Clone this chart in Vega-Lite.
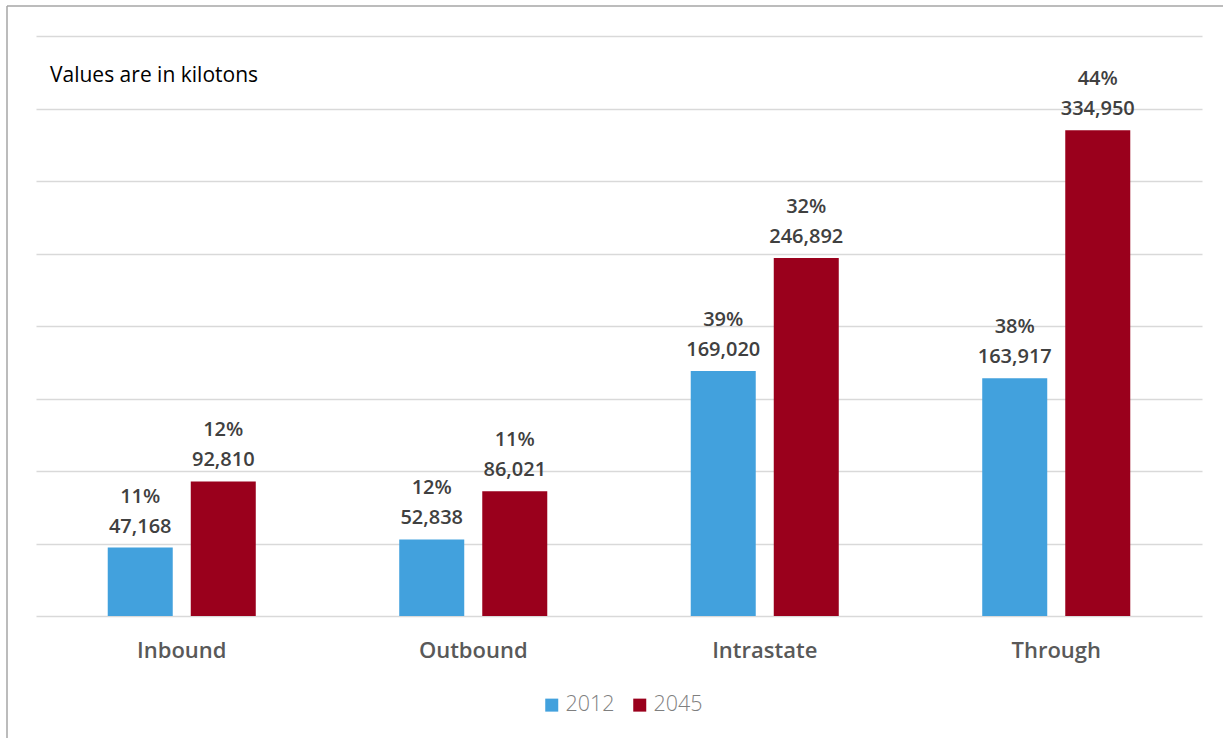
{
  "$schema": "https://vega.github.io/schema/vega-lite/v6.json",
  "width": 1216,
  "height": 732,
  "autosize": {"type": "none"},
  "padding": {"left": 7, "top": 6, "right": 0, "bottom": 0},
  "background": "white",
  "config": {
    "view": {"stroke": "#a6a6a6", "strokeWidth": 1.5, "strokeDash": [1216, 1948, 732, 0]},
    "font": "Open Sans"
  },
  "title": {
    "text": "Values are in kilotons",
    "anchor": "start",
    "frame": "group",
    "offset": -80,
    "dx": 43,
    "fontSize": 21,
    "fontWeight": 400,
    "color": "#000000",
    "font": "Open Sans"
  },
  "data": {
    "values": [
      {"category": "Inbound", "year": "2012", "value": 47168, "pct": 0.11},
      {"category": "Inbound", "year": "2045", "value": 92810, "pct": 0.12},
      {"category": "Outbound", "year": "2012", "value": 52838, "pct": 0.12},
      {"category": "Outbound", "year": "2045", "value": 86021, "pct": 0.11},
      {"category": "Intrastate", "year": "2012", "value": 169020, "pct": 0.39},
      {"category": "Intrastate", "year": "2045", "value": 246892, "pct": 0.32},
      {"category": "Through", "year": "2012", "value": 163917, "pct": 0.38},
      {"category": "Through", "year": "2045", "value": 334950, "pct": 0.44}
    ]
  },
  "encoding": {
    "x": {
      "field": "category",
      "type": "nominal",
      "sort": ["Inbound", "Outbound", "Intrastate", "Through"],
      "scale": {"range": [29, 1195], "paddingInner": 0, "paddingOuter": 0},
      "axis": {
        "title": null,
        "domain": false,
        "ticks": false,
        "grid": false,
        "labelAngle": 0,
        "labelPadding": 24,
        "offset": -122,
        "labelFontSize": 22,
        "labelFontWeight": 600,
        "labelColor": "#595959",
        "labelFont": "Open Sans"
      }
    },
    "xOffset": {
      "field": "year",
      "type": "nominal",
      "sort": ["2012", "2045"],
      "scale": {"paddingInner": 0.217, "paddingOuter": 0.864}
    },
    "y": {
      "field": "value",
      "type": "quantitative",
      "scale": {"domain": [0, 400000], "range": [610, 30], "nice": false, "zero": true},
      "axis": {
        "title": null,
        "domain": false,
        "ticks": false,
        "labels": false,
        "grid": true,
        "gridColor": "#d9d9d9",
        "gridWidth": 1.5,
        "values": [0, 50000, 100000, 150000, 200000, 250000, 300000, 350000, 400000]
      }
    }
  },
  "layer": [
    {
      "mark": {"type": "bar"},
      "encoding": {
        "color": {
          "field": "year",
          "type": "nominal",
          "scale": {"domain": ["2012", "2045"], "range": ["#42A1DD", "#9A001C"]},
          "legend": {
            "orient": "none",
            "legendX": 534,
            "legendY": 688,
            "direction": "horizontal",
            "title": null,
            "symbolType": "square",
            "symbolSize": 169,
            "symbolStrokeWidth": 0,
            "symbolOpacity": 1,
            "labelFontSize": 21.5,
            "labelFont": "Open Sans",
            "labelFontWeight": 300,
            "labelColor": "#7f7f7f",
            "labelOffset": 3,
            "columnPadding": 14
          }
        }
      }
    },
    {
      "mark": {"type": "text", "baseline": "alphabetic", "dy": -15, "fontSize": 20, "fontWeight": 600, "color": "#404040", "font": "Open Sans"},
      "encoding": {"text": {"field": "value", "type": "quantitative", "format": ",d"}}
    },
    {
      "mark": {"type": "text", "baseline": "alphabetic", "dy": -45, "fontSize": 20, "fontWeight": 600, "color": "#404040", "font": "Open Sans"},
      "encoding": {"text": {"field": "pct", "type": "quantitative", "format": ".0%"}}
    }
  ]
}
